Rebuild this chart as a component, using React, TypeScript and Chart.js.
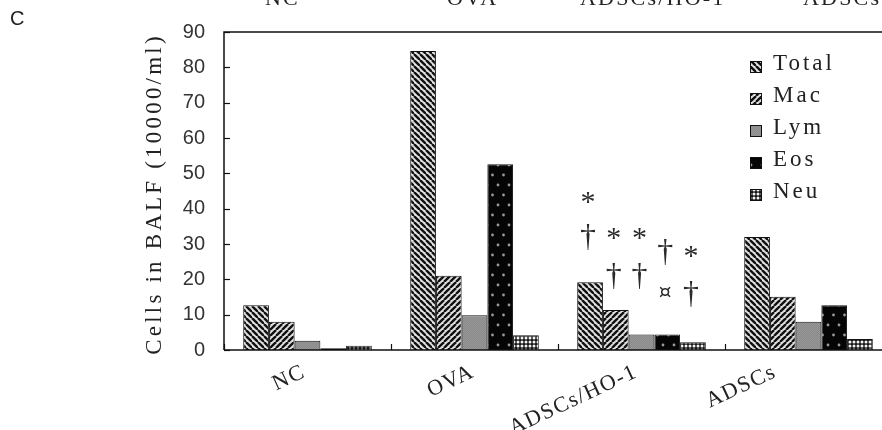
import React, { useEffect, useRef } from "react";
import { Chart, registerables } from "chart.js";

Chart.register(...registerables);

const categories = ["NC", "OVA", "ADSCs/HO-1", "ADSCs"];
const seriesNames = ["Total", "Mac", "Lym", "Eos", "Neu"];
const totalValues = [12.7, 84.6, 19.2, 32.0];
const macValues = [8.0, 21.0, 11.3, 15.1];
const lymValues = [2.6, 9.8, 4.4, 8.0];
const eosValues = [0.5, 52.6, 4.4, 12.7];
const neuValues = [1.2, 4.2, 2.2, 3.1];
const yMin = 0;
const yMax = 90;
const yStep = 10;
const yTitle = "Cells in BALF (10000/ml)";
const panelLetter = "C";
const topCutLabels = ["NC", "OVA", "ADSCs/HO-1", "ADSCs"];

// significance marks above the ADSCs/HO-1 group
const annoCategory = 2;
const annoSeries = [0, 0, 1, 1, 2, 2, 3, 3, 4, 4];
const annoValues = [43.6, 31.7, 33.4, 20.7, 33.4, 20.7, 27.7, 16.1, 28.3, 15.6];
const annoSymbols = ["*", "†", "*", "†", "*", "†", "†", "¤", "*", "†"];

function tile(w: number, h: number, draw: (g: CanvasRenderingContext2D) => void) {
  const c = document.createElement("canvas");
  c.width = w;
  c.height = h;
  const g = c.getContext("2d")!;
  draw(g);
  return c;
}

function makePatterns(ctx: CanvasRenderingContext2D) {
  const s = 6;
  const stripes = (dir: number) =>
    tile(s, s, (g) => {
      g.fillStyle = "#e2e2e2";
      g.fillRect(0, 0, s, s);
      g.strokeStyle = "#111";
      g.lineWidth = 2.4;
      for (const o of [-s, 0, s]) {
        g.beginPath();
        if (dir > 0) {
          g.moveTo(o, 0);
          g.lineTo(o + s, s);
        } else {
          g.moveTo(o, s);
          g.lineTo(o + s, 0);
        }
        g.stroke();
      }
    });
  const gray = tile(2, 2, (g) => {
    g.fillStyle = "#8a8a8a";
    g.fillRect(0, 0, 2, 2);
    g.fillStyle = "#979797";
    g.fillRect(0, 0, 1, 1);
    g.fillRect(1, 1, 1, 1);
  });
  const dots = tile(11, 20, (g) => {
    g.fillStyle = "#050505";
    g.fillRect(0, 0, 11, 20);
    g.fillStyle = "#9a9a9a";
    for (const [x, y] of [
      [3, 5],
      [8.5, 15],
    ]) {
      g.beginPath();
      g.arc(x, y, 1.4, 0, Math.PI * 2);
      g.fill();
    }
  });
  const check = tile(4, 4, (g) => {
    g.fillStyle = "#151515";
    g.fillRect(0, 0, 4, 4);
    g.fillStyle = "#f2f2f2";
    g.beginPath();
    g.arc(2, 2, 1.5, 0, Math.PI * 2);
    g.fill();
  });
  return [stripes(1), stripes(-1), gray, dots, check].map((c) => ctx.createPattern(c, "repeat")!);
}

const serif = "'Liberation Serif'";

const decorPlugin = {
  id: "decor",
  afterDraw(chart: any) {
    const ctx: any = chart.ctx;
    const a = chart.chartArea;
    const ys = chart.scales.y;
    const xs = chart.scales.x;
    ctx.save();
    // frame
    ctx.strokeStyle = "#111";
    ctx.lineWidth = 1.5;
    ctx.beginPath();
    ctx.moveTo(a.left, a.bottom);
    ctx.lineTo(a.left, a.top);
    ctx.lineTo(a.right, a.top);
    ctx.lineTo(a.right, a.bottom);
    ctx.lineTo(a.left, a.bottom);
    ctx.stroke();
    // inward ticks
    ctx.lineWidth = 1.2;
    for (let v = yMin; v <= yMax; v += yStep) {
      const py = Math.round(ys.getPixelForValue(v)) + 0.5;
      ctx.beginPath();
      ctx.moveTo(a.left, py);
      ctx.lineTo(a.left + 6, py);
      ctx.stroke();
    }
    const n = categories.length;
    for (let i = 0; i <= n; i++) {
      const px = Math.round(a.left + (i * (a.right - a.left)) / n) + 0.5;
      ctx.beginPath();
      ctx.moveTo(px, a.bottom);
      ctx.lineTo(px, a.bottom - 6);
      ctx.stroke();
    }
    // x labels (rotated)
    const shifts = [-8, -6, -10, -38];
    ctx.fillStyle = "#222";
    ctx.font = `22px ${serif}`;
    ctx.letterSpacing = "1.5px";
    categories.forEach((c, i) => {
      const cx = xs.getPixelForValue(i) + shifts[i];
      ctx.save();
      ctx.translate(cx, a.bottom + 11);
      ctx.rotate((-25 * Math.PI) / 180);
      ctx.textAlign = "right";
      ctx.textBaseline = "top";
      ctx.fillText(c, 0, 0);
      ctx.restore();
    });
    // y title
    ctx.save();
    ctx.translate(155, (a.top + a.bottom) / 2 + 3);
    ctx.rotate(-Math.PI / 2);
    ctx.textAlign = "center";
    ctx.textBaseline = "middle";
    ctx.font = `23px ${serif}`;
    ctx.letterSpacing = "3.2px";
    ctx.fillText(yTitle, 0, 0);
    ctx.restore();
    // legend
    const bx = a.right - 142;
    const by = a.top + 29;
    chart.data.datasets.forEach((ds: any, i: number) => {
      const y0 = by + i * 32;
      ctx.fillStyle = ds.backgroundColor;
      ctx.fillRect(bx, y0, 12, 12);
      ctx.strokeStyle = "#111";
      ctx.lineWidth = 1;
      ctx.strokeRect(bx + 0.5, y0 + 0.5, 11, 11);
      ctx.fillStyle = "#222";
      ctx.font = `23px ${serif}`;
      ctx.letterSpacing = "3px";
      ctx.textAlign = "left";
      ctx.textBaseline = "middle";
      ctx.fillText(ds.label, bx + 23, y0 + 3);
    });
    ctx.letterSpacing = "0px";
    // panel letter
    ctx.fillStyle = "#222";
    ctx.font = "20px 'Liberation Sans'";
    ctx.textAlign = "left";
    ctx.textBaseline = "middle";
    ctx.fillText(panelLetter, 10, 19);
    // cut labels at top (from panel above)
    ctx.font = `22px ${serif}`;
    ctx.letterSpacing = "2.2px";
    ctx.textAlign = "left";
    ctx.textBaseline = "alphabetic";
    const topX = [265, 447, 580, 803];
    topCutLabels.forEach((t, i) => ctx.fillText(t, topX[i], 5));
    ctx.letterSpacing = "0px";
    // significance marks
    ctx.fillStyle = "#2a2a2a";
    ctx.textAlign = "center";
    ctx.textBaseline = "middle";
    annoSymbols.forEach((sym, k) => {
      const bar = chart.getDatasetMeta(annoSeries[k]).data[annoCategory];
      const px = bar.x - 2;
      const py = ys.getPixelForValue(annoValues[k]);
      if (sym === "†") {
        ctx.font = `32px ${serif}`;
        ctx.fillText(sym, px, py);
      } else if (sym === "*") {
        ctx.font = `30px ${serif}`;
        ctx.fillText(sym, px, py + 7);
      } else {
        ctx.font = "20px 'DejaVu Sans'";
        ctx.fillText(sym, px, py);
      }
    });
    ctx.restore();
  },
};

export default function App() {
  const ref = useRef<HTMLCanvasElement>(null);
  useEffect(() => {
    const canvas = ref.current!;
    const ctx = canvas.getContext("2d")!;
    const pats = makePatterns(ctx);
    const values = [totalValues, macValues, lymValues, eosValues, neuValues];
    const chart = new Chart(canvas, {
      type: "bar",
      data: {
        labels: categories,
        datasets: seriesNames.map((name, i) => ({
          label: name,
          data: values[i],
          backgroundColor: pats[i] as any,
          borderColor: "#111",
          borderWidth: 1,
          barPercentage: 1,
          categoryPercentage: 0.77,
        })),
      },
      options: {
        responsive: false,
        devicePixelRatio: 1,
        animation: false,
        layout: { padding: { left: 0, right: 8, top: 32, bottom: 0 } },
        plugins: { legend: { display: false }, tooltip: { enabled: false } },
        scales: {
          x: {
            grid: { display: false, drawTicks: false },
            border: { display: false },
            ticks: { display: false },
            afterFit: (s: any) => {
              s.height = 80;
            },
          },
          y: {
            min: yMin,
            max: yMax,
            grid: { display: false, drawTicks: false },
            border: { display: false },
            ticks: {
              stepSize: yStep,
              padding: 19,
              color: "#333",
              font: { family: "'Liberation Sans'", size: 20 },
            },
            afterFit: (s: any) => {
              s.width = 224;
            },
          },
        },
      },
      plugins: [decorPlugin],
    });
    return () => chart.destroy();
  }, []);
  return (
    <div
      style={{
        position: "fixed",
        left: 0,
        top: 0,
        width: 882,
        height: 430,
        overflow: "hidden",
        background: "#fff",
      }}
    >
      <canvas ref={ref} width={900} height={430} style={{ display: "block", width: 900, height: 430 }} />
    </div>
  );
}
